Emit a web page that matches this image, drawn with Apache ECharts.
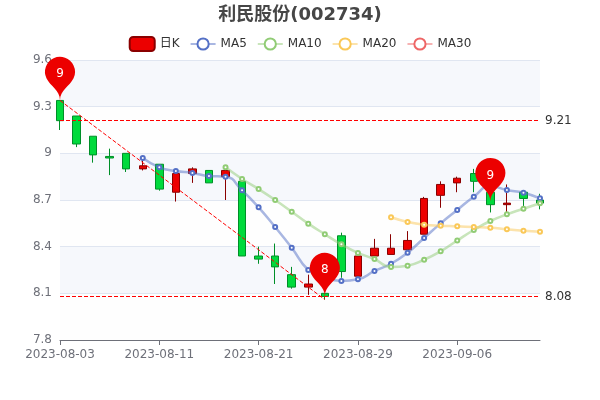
<!DOCTYPE html>
<html>
<head>
<meta charset="utf-8">
<style>html,body{margin:0;padding:0;background:#fff}#main{width:600px;height:400px}</style>
<script src="https://cdn.jsdelivr.net/npm/echarts@6/dist/echarts.min.js"></script>
</head>
<body>
<div id="main"></div>
<script>
var categories = ['2023-08-03','2023-08-04','2023-08-07','2023-08-08','2023-08-09','2023-08-10','2023-08-11','2023-08-14','2023-08-15','2023-08-16','2023-08-17','2023-08-18','2023-08-21','2023-08-22','2023-08-23','2023-08-24','2023-08-25','2023-08-28','2023-08-29','2023-08-30','2023-08-31','2023-09-01','2023-09-04','2023-09-05','2023-09-06','2023-09-07','2023-09-08','2023-09-11','2023-09-12','2023-09-13'];
var opens  = [9.34,9.24,9.11,8.98,9.00,8.90,8.93,8.75,8.87,8.89,8.85,8.82,8.34,8.34,8.22,8.14,8.10,8.47,8.21,8.34,8.35,8.38,8.48,8.73,8.81,8.87,8.75,8.67,8.75,8.70];
var closes = [9.21,9.06,8.99,8.97,8.90,8.92,8.77,8.87,8.90,8.81,8.89,8.34,8.32,8.27,8.14,8.16,8.08,8.24,8.34,8.39,8.39,8.44,8.71,8.80,8.84,8.82,8.67,8.68,8.71,8.68];
var lows   = [9.15,9.04,8.94,8.86,8.88,8.89,8.76,8.69,8.81,8.81,8.70,8.34,8.29,8.16,8.13,8.09,8.06,8.20,8.21,8.33,8.35,8.38,8.48,8.65,8.75,8.75,8.62,8.62,8.65,8.64];
var highs  = [9.34,9.24,9.11,9.03,9.00,8.96,8.93,8.87,8.91,8.89,8.89,8.82,8.40,8.42,8.27,8.22,8.10,8.49,8.34,8.45,8.48,8.50,8.72,8.82,8.85,8.90,8.80,8.80,8.76,8.74];

var ma5  = ['-','-','-','-','-',8.97,8.91,8.886,8.874,8.854,8.85,8.762,8.653,8.526,8.393,8.25,8.20,8.18,8.19,8.244,8.29,8.361,8.456,8.55,8.636,8.721,8.79,8.764,8.747,8.711];
var ma10 = ['-','-','-','-','-','-','-','-','-','-',8.91,8.835,8.77,8.70,8.625,8.548,8.48,8.415,8.36,8.32,8.27,8.278,8.316,8.37,8.44,8.507,8.565,8.608,8.644,8.679];
var ma20 = ['-','-','-','-','-','-','-','-','-','-','-','-','-','-','-','-','-','-','-','-',8.589,8.559,8.541,8.535,8.531,8.526,8.522,8.512,8.503,8.496];
var ma30 = [];

var closeLines = [9.21, 8.08];
var pinIndex = [0, 16, 26];
var pinPrice = [9.34, 8.08, 8.69];
var slopeIndex = [0, 16];
var slopePrice = [9.34, 8.06];

var fontName = '"DejaVu Sans","Noto Sans CJK SC",sans-serif';

var kData = [];
for (var i = 0; i < categories.length; i++) {
	kData.push([opens[i], closes[i], lows[i], highs[i]]);
}

function maSeries(name, data, color){
	return {
		name: name,
		type: 'line',
		data: data,
		smooth: true,
		symbol: 'emptyCircle',
		symbolSize: 4,
		showSymbol: true,
		showAllSymbol: true,
		itemStyle: {color: color, borderWidth: 2},
		lineStyle: {color: color, width: 2.5, opacity: 0.5}
	};
}

var pins = pinIndex.map(function(idx, n){
	return {coord: [categories[idx], pinPrice[n]], value: Math.round(pinPrice[n])};
});

var chart = echarts.init(document.getElementById('main'));
chart.setOption({
	animation: false,
	backgroundColor: '#fff',
	title: {
		text: '利民股份(002734)',
		left: 'center',
		top: 1,
		textStyle: {fontSize: 18, fontWeight: 'bold', color: '#464646', fontFamily: fontName}
	},
	legend: {
		top: 31,
		left: 'center',
		itemGap: 10,
		data: ['日K','MA5','MA10','MA20','MA30'],
		textStyle: {fontSize: 12, color: '#333', fontFamily: fontName}
	},
	grid: {left: 60, right: 60, top: 60, bottom: 60},
	xAxis: {
		type: 'category',
		data: categories,
		boundaryGap: false,
		axisLine: {onZero: false, lineStyle: {color: '#6E7079'}},
		axisTick: {show: true, alignWithLabel: true, interval: 5},
		axisLabel: {interval: 5, margin: 9, color: '#6E7079', fontSize: 12, fontFamily: fontName},
		splitLine: {show: false}
	},
	yAxis: {
		type: 'value',
		scale: true,
		min: 7.8,
		max: 9.6,
		interval: 0.3,
		axisLine: {show: false},
		axisTick: {show: false},
		axisLabel: {color: '#6E7079', fontSize: 12, fontFamily: fontName, padding: [2, 0, 0, 0]},
		splitLine: {show: true, lineStyle: {color: '#E0E6F1'}},
		splitArea: {show: true, areaStyle: {color: ['rgba(250,250,250,0.2)','rgba(210,219,238,0.2)']}}
	},
	series: [
		{
			name: '日K',
			type: 'candlestick',
			data: kData,
			clip: false,
			barWidth: 8,
			itemStyle: {color: '#ec0000', color0: '#00da3c', borderColor: '#8A0000', borderColor0: '#008F28'},
			markPoint: {
				symbol: 'pin',
				symbolSize: 50,
				z: 20,
				itemStyle: {color: '#ec0000'},
				label: {color: '#fff', fontSize: 12, fontFamily: fontName},
				data: pins
			},
			markLine: {
				symbol: 'none',
				silent: true,
				data: [
					{yAxis: closeLines[0], lineStyle: {color: '#f00', type: 'dashed', width: 1}, label: {position: 'end', color: '#333', fontSize: 12, fontFamily: fontName}},
					{yAxis: closeLines[1], lineStyle: {color: '#f00', type: 'dashed', width: 1}, label: {position: 'end', color: '#333', fontSize: 12, fontFamily: fontName}},
					[
						{coord: [categories[slopeIndex[0]], slopePrice[0]], lineStyle: {color: '#f00', type: 'dashed', width: 1}, label: {show: false}},
						{coord: [categories[slopeIndex[1]], slopePrice[1]]}
					]
				]
			}
		},
		maSeries('MA5', ma5, '#5470c6'),
		maSeries('MA10', ma10, '#91cc75'),
		maSeries('MA20', ma20, '#fac858'),
		maSeries('MA30', ma30, '#ee6666')
	]
});
</script>
</body>
</html>
